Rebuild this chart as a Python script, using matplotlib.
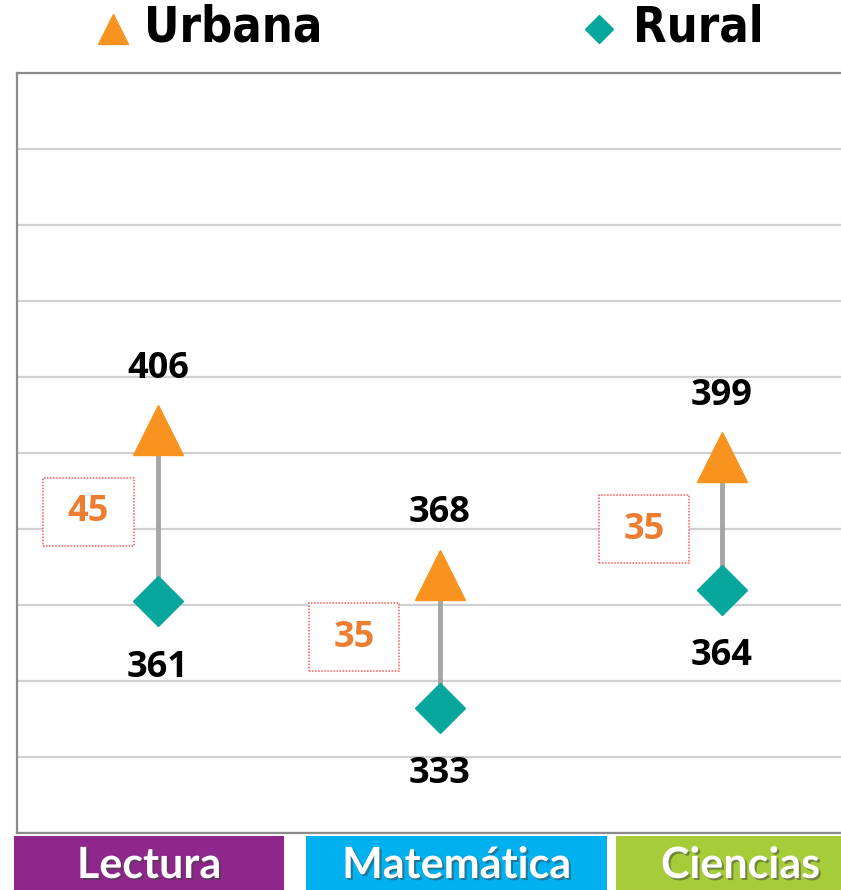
import matplotlib
matplotlib.use("Agg")
import matplotlib.pyplot as plt
import matplotlib.patheffects as pe
from matplotlib.patches import Rectangle
from matplotlib.lines import Line2D
from matplotlib.text import Text
from matplotlib.offsetbox import DrawingArea, AnnotationBbox

# datos
areas = ["Lectura", "Matemática", "Ciencias"]
urbana = [406, 368, 399]
rural = [361, 333, 364]
series = ["Urbana", "Rural"]

col_urb = "#F7931E"
col_rur = "#07A79D"
col_area = ["#8E268C", "#00B0EF", "#A6CD39"]
W, H = 841, 890

fig = plt.figure(figsize=(W / 100, H / 100), dpi=100)

def fx(x):
    return x / W

def fy(y):
    return 1 - y / H

# eje principal, el borde derecho queda fuera de la imagen
ax = fig.add_axes([fx(17), fy(833), 846 / W, 760 / H])
ax.set_xlim(-0.5, 2.5)
ax.set_ylim(300, 500)
ax.set_yticks(range(300, 501, 20))
ax.set_xticks([])
ax.tick_params(left=False, labelleft=False)
ax.grid(axis="y", color="#D0D0D0", lw=1.6)
ax.set_axisbelow(True)
for s in ax.spines.values():
    s.set_color("#8C8C8C")
    s.set_linewidth(1.6)

xs = range(len(areas))
ax.vlines(xs, rural, urbana, color="#A6A6A6", lw=3.5, zorder=2)
ax.plot(xs, urbana, ls="none", marker="^", ms=36, color=col_urb, zorder=3)
ax.plot(xs, rural, ls="none", marker="D", ms=25.5, color=col_rur, zorder=3)

num_font = dict(family="Open Sans", weight="bold", fontsize=26)
for i in xs:
    ax.annotate(str(urbana[i]), (i, urbana[i]), xytext=(0, 44), textcoords="offset points",
                ha="center", va="center", color="black", **num_font)
    ax.annotate(str(rural[i]), (i, rural[i]), xytext=(0, -48), textcoords="offset points",
                ha="center", va="center", color="black", **num_font)

# cajas con la diferencia
dx_box = [-50, -62, -56]
dy_box = [3, 3, -4]
for i in xs:
    diff = urbana[i] - rural[i]
    da = DrawingArea(65, 49, 0, 0)
    da.add_artist(Rectangle((0, 0), 65, 49, fc="white", ec="#FF5A5A", ls=(0, (1, 1)), lw=1.1))
    da.add_artist(Text(32.5, 24, str(diff), ha="center", va="center", color="#ED7D31", **num_font))
    ab = AnnotationBbox(da, (i, (urbana[i] + rural[i]) / 2), xybox=(dx_box[i], dy_box[i]),
                        boxcoords="offset points", frameon=False, box_alignment=(0.5, 0.5), pad=0)
    ax.add_artist(ab)

# franjas de las áreas
box_x = [(14, 284), (306, 607), (616, 870)]
for name, (x0, x1), c in zip(areas, box_x, col_area):
    fig.patches.append(Rectangle((fx(x0), 0), fx(x1) - fx(x0), fy(836), transform=fig.transFigure,
                                 fc=c, ec="none"))
    fig.text(fx((x0 + min(x1, W + 24)) / 2), fy(865), name, ha="center", va="center", color="white",
             family="Lato", weight="bold", fontsize=31,
             path_effects=[pe.withSimplePatchShadow(offset=(1.5, -1.5), shadow_rgbFace="#404040", alpha=0.5)])

# leyenda
leg_font = dict(family="DejaVu Sans", weight="bold", stretch="condensed", fontsize=35, color="black")
fig.add_artist(Line2D([fx(113)], [fy(29)], marker="^", ms=21.5, color=col_urb, transform=fig.transFigure))
fig.text(fx(144), fy(28), series[0], ha="left", va="center", **leg_font)
fig.add_artist(Line2D([fx(599)], [fy(29)], marker="D", ms=14, color=col_rur, transform=fig.transFigure))
fig.text(fx(633), fy(28), series[1], ha="left", va="center", **leg_font)

fig.savefig("out.png", dpi=100)
